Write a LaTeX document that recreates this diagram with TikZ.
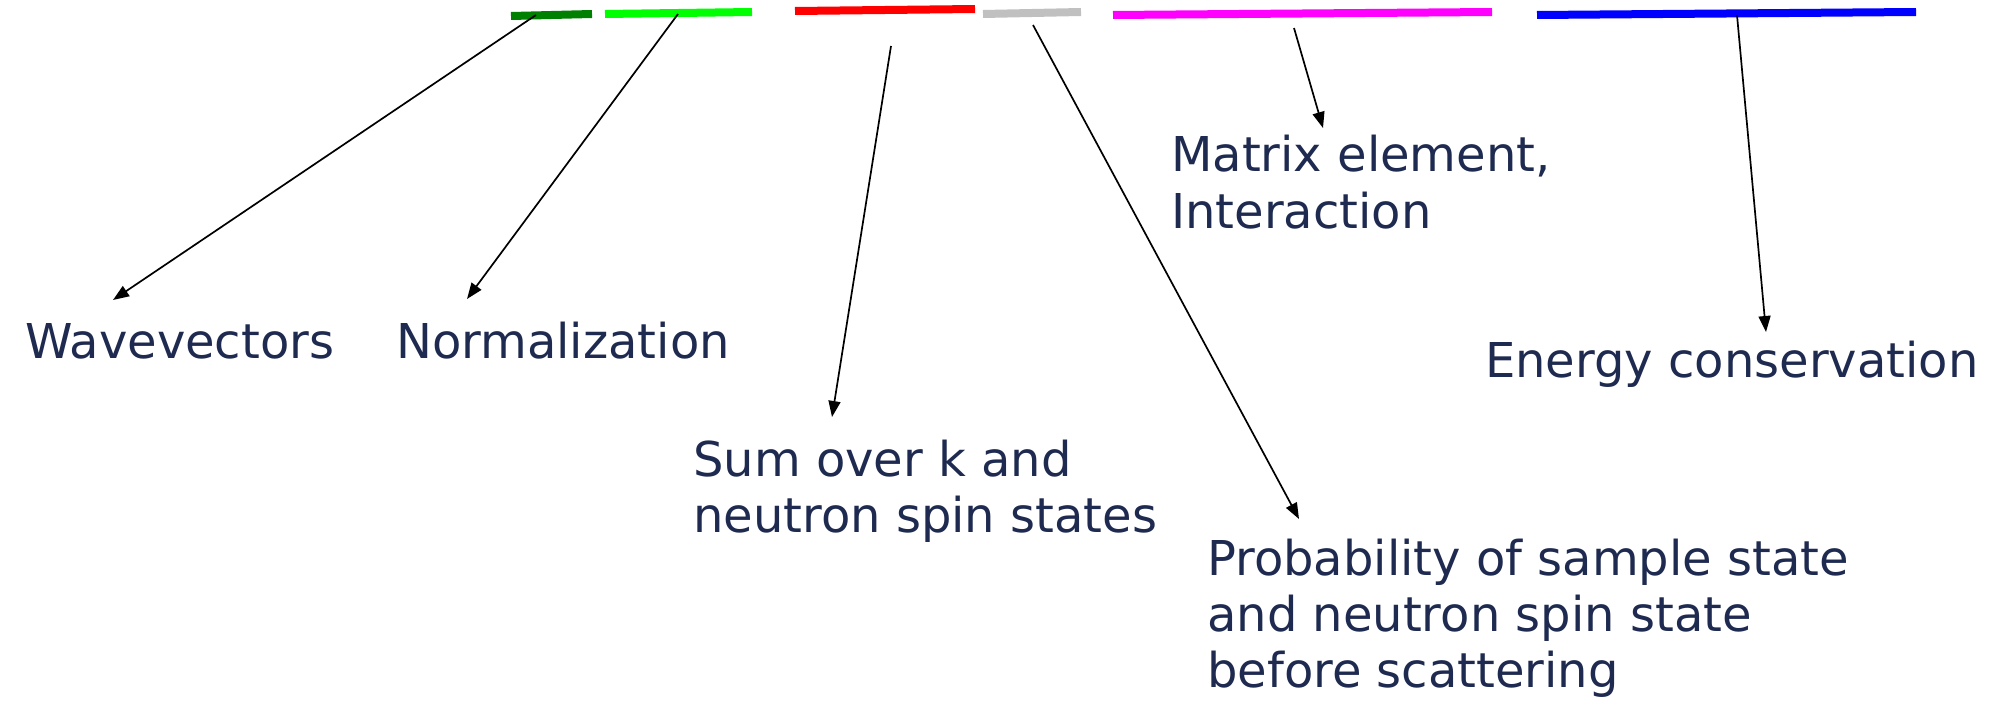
\documentclass[tikz,border=0pt]{standalone}
\usepackage{fontspec}
\setmainfont{DejaVu Sans}
\usetikzlibrary{arrows.meta}
\definecolor{txt}{RGB}{30,42,79}
\definecolor{dkgreen}{RGB}{0,128,0}
\definecolor{ltgreen}{RGB}{0,255,0}
\definecolor{ltgray}{RGB}{192,192,192}
\definecolor{magbar}{RGB}{255,0,255}
\definecolor{bluebar}{RGB}{0,0,255}
\tikzset{
  bar/.style={line width=8bp},
  lbl/.style={anchor=base west, inner sep=0pt, text=txt, align=left,
    font=\fontsize{48bp}{56bp}\selectfont},
  arr/.style={line width=1.7bp, draw=black, -{Triangle[length=16bp,width=12bp]}}
}
\begin{document}
\begin{tikzpicture}[x=1bp,y=-1bp]
\useasboundingbox (0,0) rectangle (1995,703);
% coloured bars
\draw[bar, dkgreen] (511,16) -- (592,14);
\draw[bar, ltgreen] (605,14) -- (752,12);
\draw[bar, red] (795,11) -- (975,9);
\draw[bar, ltgray] (983,14) -- (1081,12);
\draw[bar, magbar] (1113,15) -- (1492,12);
\draw[bar, bluebar] (1537,15) -- (1916,12);
% arrow start points
\coordinate (s1) at (536,15);
\coordinate (s2) at (678,14);
\coordinate (s3) at (891,46);
\coordinate (s4) at (1033,25);
\coordinate (s5) at (1294,28);
\coordinate (s6) at (1737,15);
% arrow end points
\coordinate (e1) at (113,300);
\coordinate (e2) at (467,299);
\coordinate (e3) at (832,417);
\coordinate (e4) at (1299,519);
\coordinate (e5) at (1323,128);
\coordinate (e6) at (1766,332);
% labels (base = baseline of the last line)
\node[lbl] (wv) at (25,358) {Wavevectors};
\node[lbl] (nm) at (396,358) {Normalization};
\node[lbl] (sum) at (693,532) {Sum over k and\\neutron spin states};
\node[lbl] (mat) at (1171,228) {Matrix element,\\Interaction};
\node[lbl] (en) at (1485,377) {Energy conservation};
\node[lbl] (pr) at (1207,687) {Probability of sample state\\and neutron spin state\\before scattering};
% arrows
\draw[arr] (s1) -- (e1);
\draw[arr] (s2) -- (e2);
\draw[arr] (s3) -- (e3);
\draw[arr] (s4) -- (e4);
\draw[arr] (s5) -- (e5);
\draw[arr] (s6) -- (e6);
\end{tikzpicture}
\end{document}
